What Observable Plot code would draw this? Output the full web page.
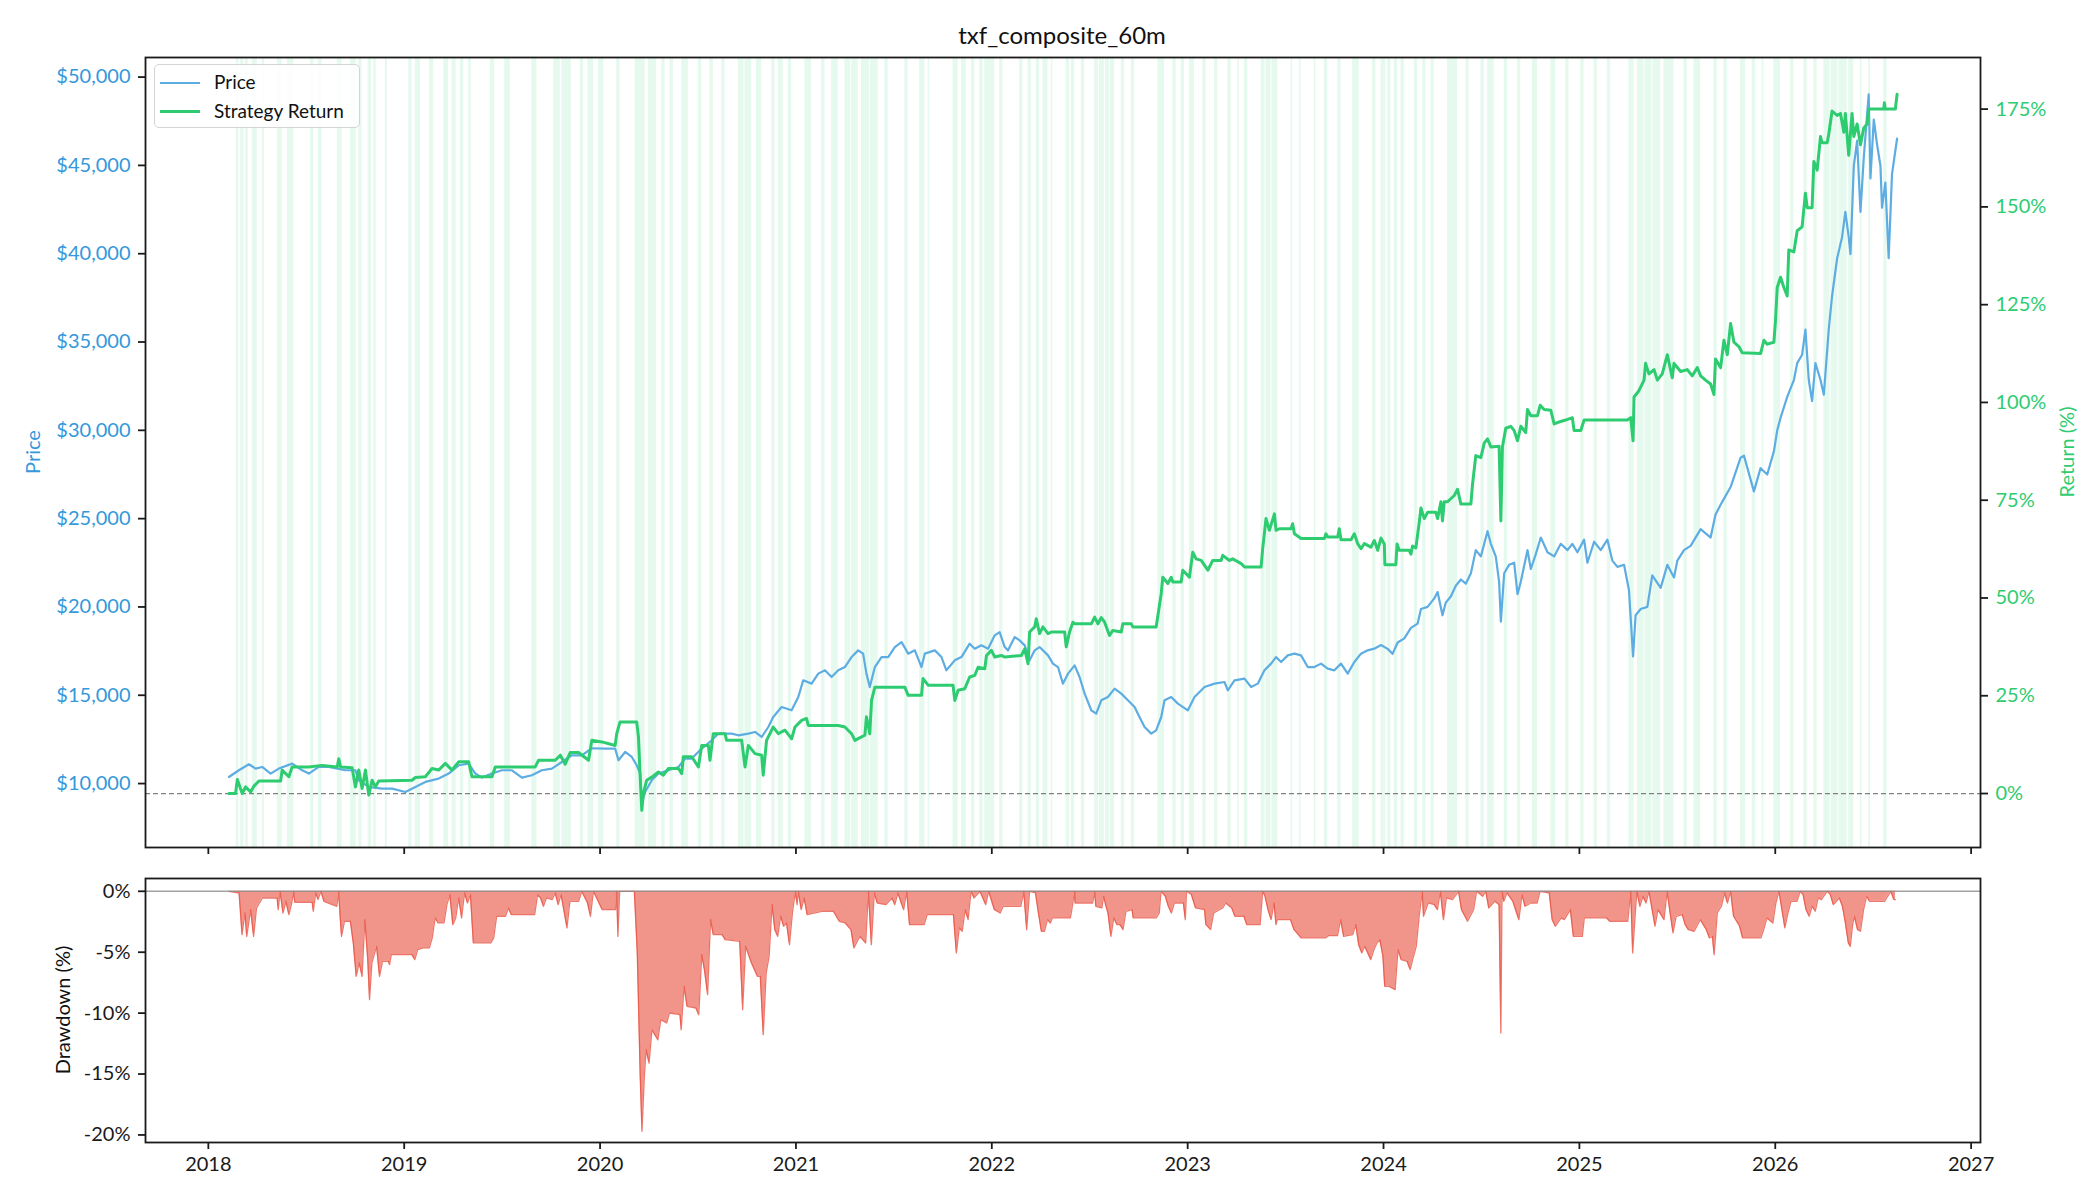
<!DOCTYPE html>
<html><head><meta charset="utf-8">
<script src="https://cdn.jsdelivr.net/npm/d3@7"></script>
<script src="https://cdn.jsdelivr.net/npm/@observablehq/plot@0.6"></script>
<style>
body{margin:0;background:#fff;}
#wrap{position:relative;width:2100px;height:1200px;font-family:Lato,"DejaVu Sans",sans-serif;color:#111;overflow:hidden;}
#wrap svg{position:absolute;left:0;}
.lbl{position:absolute;font-size:20px;white-space:nowrap;}
</style></head>
<body><div id="wrap"></div>
<script>
// ---------------- data (decimal years) ----------------
const priceT = [2018.105,2018.156,2018.207,2018.241,2018.275,2018.318,2018.360,2018.428,2018.479,2018.513,2018.564,2018.615,2018.700,2018.751,2018.768,2018.819,2018.887,2018.938,2019.006,2019.057,2019.108,2019.176,2019.227,2019.278,2019.329,2019.363,2019.397,2019.448,2019.499,2019.550,2019.601,2019.652,2019.703,2019.754,2019.805,2019.856,2019.907,2019.958,2020.026,2020.077,2020.094,2020.128,2020.162,2020.187,2020.205,2020.213,2020.230,2020.264,2020.298,2020.349,2020.400,2020.434,2020.468,2020.519,2020.570,2020.604,2020.672,2020.706,2020.757,2020.791,2020.825,2020.859,2020.884,2020.927,2020.978,2021.012,2021.037,2021.080,2021.114,2021.148,2021.182,2021.216,2021.250,2021.284,2021.318,2021.343,2021.360,2021.377,2021.403,2021.437,2021.471,2021.505,2021.539,2021.573,2021.607,2021.641,2021.658,2021.709,2021.743,2021.768,2021.811,2021.845,2021.887,2021.913,2021.947,2021.981,2022.015,2022.040,2022.066,2022.083,2022.117,2022.142,2022.168,2022.193,2022.219,2022.244,2022.287,2022.312,2022.338,2022.363,2022.389,2022.423,2022.448,2022.474,2022.508,2022.533,2022.559,2022.593,2022.627,2022.661,2022.695,2022.729,2022.754,2022.780,2022.814,2022.839,2022.865,2022.882,2022.916,2022.950,2023.001,2023.035,2023.086,2023.137,2023.188,2023.205,2023.239,2023.290,2023.324,2023.358,2023.392,2023.426,2023.451,2023.477,2023.511,2023.545,2023.579,2023.613,2023.647,2023.681,2023.715,2023.749,2023.783,2023.817,2023.851,2023.885,2023.919,2023.953,2023.987,2024.021,2024.046,2024.072,2024.106,2024.140,2024.174,2024.191,2024.225,2024.259,2024.276,2024.301,2024.318,2024.344,2024.369,2024.395,2024.420,2024.446,2024.471,2024.497,2024.514,2024.531,2024.548,2024.573,2024.590,2024.599,2024.616,2024.641,2024.667,2024.684,2024.701,2024.735,2024.752,2024.777,2024.803,2024.837,2024.871,2024.905,2024.939,2024.964,2024.990,2025.024,2025.041,2025.075,2025.109,2025.143,2025.168,2025.194,2025.228,2025.253,2025.274,2025.287,2025.313,2025.347,2025.372,2025.415,2025.449,2025.483,2025.500,2025.534,2025.568,2025.619,2025.670,2025.695,2025.729,2025.772,2025.823,2025.840,2025.891,2025.925,2025.959,2025.993,2026.010,2026.027,2026.061,2026.095,2026.112,2026.137,2026.154,2026.171,2026.188,2026.205,2026.231,2026.248,2026.273,2026.290,2026.316,2026.341,2026.358,2026.375,2026.384,2026.401,2026.418,2026.435,2026.452,2026.477,2026.486,2026.503,2026.520,2026.537,2026.545,2026.562,2026.579,2026.596,2026.622];
const priceV = [10373,10753,11092,10849,10941,10566,10849,11130,10753,10566,10941,10941,10753,10753,10187,9808,9717,9717,9525,9808,10093,10283,10566,11035,11130,10566,10339,10566,10753,10753,10339,10470,10753,10849,11222,11601,11601,12000,11980,11980,11318,11788,11505,11035,10566,8900,9525,10187,10566,10753,10941,11414,11414,11980,12450,12829,12829,12733,12829,12920,12637,13202,13768,14334,14147,14900,15845,15658,16224,16411,16031,16411,16597,17163,17542,17355,16224,15466,16597,17163,17163,17729,18012,17355,17542,16597,17355,17542,17163,16411,16976,17163,17921,17638,17825,17638,18391,18578,17729,17542,18295,18108,17825,16976,17542,17729,17259,16790,16597,15658,16224,16693,16031,15092,14147,13961,14713,14900,15375,15092,14713,14334,13768,13202,12829,13016,13768,14713,14900,14526,14147,14900,15466,15658,15749,15279,15845,15941,15466,15658,16411,16790,17163,16880,17259,17355,17259,16597,16597,16790,16507,16411,16790,16224,16880,17355,17542,17638,17845,17627,17344,17984,18221,18815,19053,19885,20003,20484,20841,19528,20247,20603,21197,21554,21316,21910,23217,22861,23574,24286,23574,22861,21435,19172,21910,22385,22504,20722,21435,23217,22148,22980,23930,23098,22861,23574,23217,23574,23098,23811,22504,23692,23217,23811,22623,22267,22385,20960,17203,19528,19885,20003,21791,21078,22385,21672,22623,23217,23455,24405,23930,25237,25950,26787,28451,28570,26544,27857,27500,28807,29996,30709,31896,32847,33803,34279,35705,32847,31659,33803,32847,32015,35705,37606,39744,40938,42364,40938,39982,44978,46404,42364,45453,49024,44265,47598,46166,44978,42602,44028,39744,44503,46523];

const returnT = [2018.105,2018.139,2018.148,2018.173,2018.190,2018.216,2018.233,2018.258,2018.369,2018.377,2018.411,2018.428,2018.513,2018.581,2018.658,2018.666,2018.675,2018.734,2018.751,2018.768,2018.785,2018.802,2018.819,2018.836,2018.853,2018.870,2019.040,2019.057,2019.108,2019.142,2019.176,2019.210,2019.244,2019.278,2019.329,2019.346,2019.448,2019.465,2019.669,2019.686,2019.771,2019.797,2019.822,2019.848,2019.890,2019.941,2019.958,2020.009,2020.077,2020.085,2020.102,2020.187,2020.196,2020.204,2020.213,2020.221,2020.238,2020.264,2020.298,2020.323,2020.349,2020.400,2020.417,2020.425,2020.468,2020.502,2020.519,2020.553,2020.561,2020.578,2020.638,2020.646,2020.723,2020.740,2020.757,2020.791,2020.825,2020.833,2020.850,2020.884,2020.910,2020.944,2020.978,2020.995,2021.029,2021.054,2021.063,2021.216,2021.250,2021.284,2021.301,2021.335,2021.352,2021.360,2021.377,2021.386,2021.403,2021.556,2021.573,2021.641,2021.649,2021.675,2021.802,2021.811,2021.828,2021.862,2021.887,2021.913,2021.930,2021.964,2021.973,2021.998,2022.015,2022.049,2022.066,2022.151,2022.168,2022.185,2022.193,2022.219,2022.227,2022.244,2022.261,2022.287,2022.304,2022.372,2022.380,2022.397,2022.414,2022.423,2022.508,2022.525,2022.542,2022.559,2022.576,2022.601,2022.618,2022.661,2022.669,2022.712,2022.720,2022.839,2022.865,2022.873,2022.899,2022.916,2022.924,2022.967,2022.975,2023.009,2023.026,2023.043,2023.069,2023.103,2023.128,2023.171,2023.179,2023.213,2023.230,2023.273,2023.290,2023.375,2023.383,2023.400,2023.417,2023.443,2023.451,2023.468,2023.528,2023.536,2023.545,2023.579,2023.698,2023.706,2023.715,2023.766,2023.774,2023.783,2023.834,2023.851,2023.868,2023.885,2023.902,2023.936,2023.953,2023.970,2023.987,2024.004,2024.007,2024.063,2024.069,2024.080,2024.131,2024.140,2024.148,2024.165,2024.182,2024.191,2024.208,2024.225,2024.267,2024.276,2024.293,2024.301,2024.310,2024.327,2024.361,2024.378,2024.395,2024.446,2024.454,2024.471,2024.497,2024.514,2024.531,2024.548,2024.590,2024.599,2024.607,2024.624,2024.650,2024.667,2024.684,2024.701,2024.726,2024.735,2024.752,2024.786,2024.800,2024.820,2024.854,2024.871,2024.896,2024.930,2024.964,2024.973,2025.007,2025.024,2025.245,2025.262,2025.274,2025.279,2025.304,2025.330,2025.338,2025.355,2025.381,2025.398,2025.423,2025.449,2025.474,2025.483,2025.517,2025.551,2025.576,2025.602,2025.619,2025.644,2025.670,2025.687,2025.695,2025.721,2025.738,2025.755,2025.772,2025.789,2025.814,2025.831,2025.925,2025.942,2025.959,2025.993,2026.001,2026.010,2026.027,2026.044,2026.061,2026.069,2026.095,2026.112,2026.137,2026.154,2026.163,2026.188,2026.197,2026.214,2026.231,2026.239,2026.265,2026.273,2026.290,2026.316,2026.333,2026.350,2026.358,2026.375,2026.392,2026.401,2026.418,2026.435,2026.452,2026.469,2026.477,2026.554,2026.557,2026.562,2026.613,2026.622];
const returnV = [0,0,3.6,0,1.7,0.4,1.9,3.2,3.2,6.0,4.3,6.8,6.8,7.2,6.8,8.9,6.8,6.6,1.7,6.0,1.3,6.0,-0.4,3.4,1.7,3.2,3.4,4.1,4.3,6.4,6.0,7.7,6.0,8.1,8.1,4.3,4.3,6.8,6.8,8.5,8.5,9.8,7.5,10.5,10.5,8.5,13.6,13.2,12.3,15.3,18.3,18.3,14.5,5.1,-4.3,0,3.4,4.2,5.5,4.7,6.4,6.4,5.1,9.4,9.4,6.8,12.3,12.3,8.5,15.3,15.3,13.6,13.6,6.8,12.3,10.2,9.8,4.7,13.6,17.0,15.3,16.2,14.0,17.0,18.7,19.2,17.4,17.4,17.0,15.3,13.6,14.5,14.9,19.6,15.3,23.8,27.2,27.2,25.1,25.1,29.4,27.7,27.7,23.8,26.4,26.8,29.8,30.2,32.3,31.9,35.3,36.6,34.9,35.3,34.9,35.3,37.0,33.2,41.3,42.6,44.7,40.9,42.6,40.9,41.3,41.3,37.5,41.3,43.8,43.4,43.4,45.1,43.4,45.0,43.8,40.4,41.7,41.3,43.4,43.4,42.6,42.6,51.1,55.3,53.7,55.3,54.1,54.1,57.1,55.3,61.7,60.0,59.6,57.1,59.6,59.6,60.9,59.6,60.0,58.8,57.9,57.9,62.6,70.3,67.3,71.5,67.3,67.7,67.7,69.0,66.4,65.2,65.2,66.4,65.6,65.6,67.7,64.9,64.9,66.4,63.9,62.6,63.9,63.0,64.7,62.2,65.3,63.8,58.5,58.5,63.8,62.2,62.2,61.2,63.3,62.8,69.2,73.0,70.3,71.9,71.9,70.3,74.6,69.7,74.6,74.6,76.2,77.8,74.0,74.0,78.9,86.4,85.9,89.6,90.7,88.6,88.8,69.7,88.6,93.4,93.9,92.8,90.2,93.9,92.3,98.2,96.6,96.6,99.3,98.2,98.0,94.5,95.0,95.5,96.1,92.8,92.8,95.5,95.5,96.1,90.2,101.4,103.0,105.7,110.0,107.3,108.4,105.7,107.3,112.2,106.3,110.0,107.9,108.4,106.8,108.9,106.8,105.7,104.7,102.0,111.1,108.9,115.9,112.2,120.2,115.4,114.3,112.7,112.5,115.9,114.9,115.4,120.8,129.4,132.0,129.4,127.2,139.0,138.5,143.9,144.9,153.5,149.8,149.8,161.6,159.4,168.0,166.4,166.4,168.5,174.5,173.4,173.9,169.1,173.9,163.2,173.9,168.0,171.2,165.9,170.2,171.2,175.0,175.0,176.6,175.0,175.0,178.8];

const ddT = [2018.105,2018.157,2018.172,2018.187,2018.196,2018.216,2018.231,2018.246,2018.276,2018.351,2018.357,2018.366,2018.381,2018.396,2018.411,2018.426,2018.435,2018.441,2018.530,2018.536,2018.548,2018.560,2018.575,2018.590,2018.656,2018.665,2018.674,2018.680,2018.695,2018.725,2018.740,2018.755,2018.770,2018.785,2018.799,2018.814,2018.823,2018.835,2018.859,2018.874,2018.889,2018.919,2018.925,2018.934,2019.039,2019.054,2019.069,2019.098,2019.128,2019.143,2019.158,2019.173,2019.203,2019.218,2019.233,2019.248,2019.263,2019.278,2019.293,2019.308,2019.323,2019.338,2019.353,2019.442,2019.457,2019.472,2019.517,2019.532,2019.547,2019.666,2019.681,2019.696,2019.711,2019.726,2019.756,2019.771,2019.786,2019.801,2019.831,2019.846,2019.891,2019.906,2019.936,2019.951,2019.966,2020.011,2020.079,2020.085,2020.091,2020.100,2020.175,2020.190,2020.205,2020.214,2020.226,2020.235,2020.250,2020.265,2020.295,2020.310,2020.340,2020.354,2020.408,2020.414,2020.429,2020.444,2020.489,2020.504,2020.519,2020.534,2020.549,2020.564,2020.578,2020.623,2020.638,2020.713,2020.728,2020.743,2020.773,2020.803,2020.818,2020.833,2020.848,2020.863,2020.878,2020.892,2020.907,2020.922,2020.937,2020.952,2020.967,2020.982,2020.997,2021.006,2021.012,2021.027,2021.042,2021.057,2021.132,2021.191,2021.221,2021.251,2021.281,2021.296,2021.326,2021.356,2021.370,2021.385,2021.400,2021.415,2021.460,2021.490,2021.505,2021.520,2021.550,2021.565,2021.580,2021.655,2021.670,2021.804,2021.819,2021.834,2021.849,2021.864,2021.879,2021.894,2021.909,2021.939,2021.969,2021.984,2022.013,2022.043,2022.058,2022.148,2022.163,2022.178,2022.193,2022.223,2022.238,2022.253,2022.269,2022.284,2022.299,2022.309,2022.401,2022.407,2022.423,2022.425,2022.515,2022.525,2022.531,2022.562,2022.571,2022.583,2022.593,2022.608,2022.623,2022.639,2022.654,2022.670,2022.685,2022.716,2022.722,2022.840,2022.855,2022.864,2022.886,2022.901,2022.917,2022.932,2022.978,2022.988,2022.994,2023.019,2023.040,2023.086,2023.093,2023.117,2023.133,2023.179,2023.194,2023.225,2023.241,2023.287,2023.302,2023.370,2023.383,2023.395,2023.410,2023.426,2023.441,2023.451,2023.457,2023.525,2023.543,2023.580,2023.704,2023.719,2023.765,2023.781,2023.796,2023.843,2023.858,2023.873,2023.889,2023.904,2023.935,2023.951,2023.966,2023.981,2023.997,2024.006,2024.028,2024.059,2024.074,2024.090,2024.120,2024.136,2024.151,2024.167,2024.182,2024.198,2024.204,2024.228,2024.259,2024.275,2024.290,2024.306,2024.321,2024.352,2024.383,2024.398,2024.429,2024.460,2024.475,2024.506,2024.522,2024.537,2024.568,2024.590,2024.599,2024.605,2024.614,2024.630,2024.660,2024.691,2024.707,2024.722,2024.753,2024.784,2024.799,2024.846,2024.861,2024.877,2024.907,2024.923,2024.954,2024.969,2025.015,2025.025,2025.139,2025.154,2025.247,2025.262,2025.272,2025.293,2025.309,2025.324,2025.340,2025.355,2025.386,2025.401,2025.432,2025.448,2025.463,2025.478,2025.494,2025.525,2025.540,2025.556,2025.586,2025.617,2025.648,2025.664,2025.679,2025.688,2025.704,2025.725,2025.741,2025.756,2025.772,2025.787,2025.818,2025.833,2025.926,2025.941,2025.957,2025.988,2026.003,2026.019,2026.034,2026.049,2026.065,2026.080,2026.111,2026.127,2026.142,2026.157,2026.173,2026.188,2026.204,2026.219,2026.235,2026.265,2026.281,2026.296,2026.327,2026.343,2026.358,2026.373,2026.383,2026.395,2026.404,2026.420,2026.435,2026.451,2026.466,2026.481,2026.559,2026.574,2026.590,2026.605,2026.614];
const ddV = [0,-0.14,-3.56,-1.78,-3.70,-1.51,-3.70,-1.37,-0.55,-0.55,-1.51,0,-1.78,-0.82,-1.92,-0.96,0,-0.90,-0.90,-1.64,-0.14,-0.68,0,-0.82,-1.23,0,-2.33,-3.70,-2.46,-2.46,-4.24,-6.98,-5.88,-6.98,-2.33,-5.61,-8.90,-5.88,-4.52,-6.98,-5.75,-5.75,-6.02,-5.20,-5.20,-5.61,-4.79,-4.65,-4.65,-3.83,-2.19,-2.60,-2.60,-1.10,-0.27,-2.74,-2.19,-0.55,-2.19,-0.14,-0.96,-0.27,-4.24,-4.24,-3.83,-2.05,-2.05,-1.37,-1.92,-1.92,-0.27,-0.55,-1.23,-0.55,-0.68,-0.14,-1.10,-0.27,-3.01,-0.82,-0.82,0,-0.96,-2.05,0,-1.51,-1.51,0,-3.70,0,0,-5.06,-15.19,-19.70,-15.19,-13.0,-14.1,-11.37,-12.19,-10.54,-10.81,-9.99,-10.13,-11.37,-7.80,-9.44,-9.58,-10.13,-5.20,-6.57,-8.48,-2.33,-3.56,-3.56,-3.97,-4.11,-9.72,-4.52,-5.88,-6.98,-6.98,-11.77,-6.71,-5.34,-1.10,-3.15,-3.70,-2.05,-2.87,-2.60,-4.38,-1.78,0,-1.10,0,-1.51,-0.55,-1.92,-1.64,-1.64,-2.46,-2.60,-3.15,-4.65,-3.70,-4.24,0,-4.38,-0.14,-0.96,-1.10,-0.55,-1.10,-0.14,-1.51,0,-2.74,-2.74,-1.92,-1.92,-5.06,-3.01,-3.28,-1.51,-2.33,0,-0.55,0,-1.10,0,-1.51,-1.78,-1.23,-1.23,0,-3.15,0,-0.14,-1.78,-3.28,-3.28,-2.33,-2.60,-2.19,-2.19,-1.64,0,-0.96,-0.96,0,-1.23,-1.37,-0.41,-1.23,-1.78,-3.70,-2.19,-2.74,-2.74,-3.15,-1.64,-1.51,-2.19,-2.19,-1.78,0,-0.41,-1.23,-1.78,-0.96,-0.96,-2.33,0,-0.27,-1.37,-1.51,-2.74,-3.15,-1.78,-1.37,-0.96,-1.37,-2.05,-2.05,-2.74,-2.74,0,-0.41,-1.51,-2.33,-0.96,-2.74,-2.33,-2.33,-3.15,-3.83,-3.83,-3.64,-3.64,-2.33,-3.70,-3.56,-2.74,-4.38,-5.06,-4.52,-5.61,-4.79,-4.24,-3.97,-5.34,-7.80,-7.80,-8.07,-4.79,-5.61,-5.75,-6.43,-5.47,-4.52,-2.05,0,-2.05,-0.96,-1.10,-1.51,0,-2.33,-0.55,-0.68,0,-1.51,-2.46,-1.51,0,-0.41,0,-1.37,-0.82,-1.10,-11.63,0,-0.82,-0.14,-0.82,-2.33,-0.27,-1.23,-0.96,-0.96,0,-0.14,-2.33,-2.87,-2.19,-2.33,-1.51,-3.70,-3.70,-2.19,-2.19,-2.46,-2.46,0,-5.06,0,-1.23,-0.41,-0.96,0,-2.87,-1.51,-2.33,0,-1.78,-3.42,-2.05,-1.92,-2.74,-3.15,-3.28,-2.33,-3.15,-3.83,-3.70,-5.20,-1.78,-1.23,-0.14,-0.96,0,-2.05,-2.87,-3.83,-3.83,-3.15,-2.19,-2.60,-0.96,0,-1.51,-3.01,-1.78,-0.82,-0.82,0,-0.27,-1.51,-2.05,-1.23,-1.64,-0.55,-0.68,0,-0.27,-1.10,-0.55,-1.23,-2.60,-4.24,-4.52,-2.74,-2.05,-3.15,-3.28,-1.51,-0.41,-0.82,-0.82,-0.41,0,-0.68,-0.68];

// in-position periods (green spans)
const bandStart = [2018.143,2018.165,2018.190,2018.224,2018.275,2018.352,2018.403,2018.522,2018.561,2018.658,2018.726,2018.768,2018.816,2018.845,2018.904,2019.023,2019.057,2019.129,2019.202,2019.244,2019.287,2019.329,2019.440,2019.513,2019.652,2019.763,2019.805,2019.899,2019.938,2019.992,2020.085,2020.179,2020.247,2020.315,2020.357,2020.417,2020.502,2020.561,2020.621,2020.706,2020.740,2020.799,2020.876,2020.910,2020.961,2021.046,2021.131,2021.182,2021.250,2021.285,2021.335,2021.380,2021.454,2021.556,2021.632,2021.675,2021.802,2021.845,2021.896,2021.938,2021.964,2022.040,2022.142,2022.185,2022.227,2022.261,2022.304,2022.380,2022.406,2022.457,2022.525,2022.550,2022.580,2022.605,2022.661,2022.712,2022.848,2022.924,2022.967,2023.009,2023.077,2023.137,2023.205,2023.256,2023.290,2023.375,2023.400,2023.430,2023.528,2023.570,2023.647,2023.698,2023.766,2023.842,2023.944,2023.987,2024.021,2024.055,2024.089,2024.157,2024.200,2024.242,2024.327,2024.421,2024.497,2024.531,2024.616,2024.684,2024.760,2024.854,2024.930,2025.007,2025.075,2025.143,2025.253,2025.296,2025.335,2025.375,2025.432,2025.534,2025.585,2025.687,2025.738,2025.823,2025.882,2025.933,2025.993,2026.078,2026.146,2026.197,2026.248,2026.285,2026.325,2026.375,2026.435,2026.477,2026.554];
const bandEnd   = [2018.156,2018.182,2018.204,2018.250,2018.287,2018.377,2018.437,2018.539,2018.581,2018.683,2018.755,2018.785,2018.833,2018.857,2018.914,2019.040,2019.083,2019.151,2019.227,2019.265,2019.304,2019.343,2019.462,2019.542,2019.678,2019.797,2019.853,2019.916,2019.967,2020.019,2020.102,2020.230,2020.289,2020.332,2020.374,2020.451,2020.519,2020.578,2020.638,2020.735,2020.774,2020.825,2020.893,2020.935,2020.978,2021.080,2021.148,2021.216,2021.280,2021.318,2021.375,2021.420,2021.471,2021.573,2021.658,2021.683,2021.828,2021.870,2021.913,2021.955,2022.015,2022.057,2022.159,2022.202,2022.244,2022.287,2022.312,2022.397,2022.423,2022.474,2022.545,2022.575,2022.600,2022.627,2022.678,2022.729,2022.882,2022.941,2022.984,2023.035,2023.094,2023.154,2023.222,2023.264,2023.307,2023.395,2023.425,2023.460,2023.536,2023.579,2023.655,2023.715,2023.783,2023.876,2023.961,2024.012,2024.038,2024.072,2024.106,2024.174,2024.217,2024.259,2024.378,2024.437,2024.514,2024.565,2024.633,2024.701,2024.786,2024.879,2024.947,2025.024,2025.092,2025.160,2025.279,2025.330,2025.370,2025.415,2025.483,2025.551,2025.619,2025.704,2025.755,2025.848,2025.899,2025.942,2026.027,2026.095,2026.163,2026.214,2026.280,2026.320,2026.367,2026.401,2026.443,2026.486,2026.571];

const yearTicks   = [2018,2019,2020,2021,2022,2023,2024,2025,2026,2027];
const priceTicks  = [10000,15000,20000,25000,30000,35000,40000,45000,50000];
const returnTicks = [0,25,50,75,100,125,150,175];
const ddTicks     = [0,-5,-10,-15,-20];
const priceDomain  = [6380, 51109];
const returnDomain = [-13.8, 188.2];
const ddDomain     = [-20.62, 1.05];

// ---------------- build ----------------
const FONT = "Lato, 'DejaVu Sans', sans-serif";
const BLUE = "#5dade2", GREEN = "#2ecc71", RED = "#e74c3c", AX = "#1a1a1a";
const pad = 0.05 * (priceT[priceT.length-1] - priceT[0]);
const xDomain = [priceT[0] - pad, priceT[priceT.length-1] + pad];
const k = (priceDomain[1]-priceDomain[0])/(returnDomain[1]-returnDomain[0]);
const toP = r => priceDomain[0] + (r - returnDomain[0]) * k;
const toR = p => returnDomain[0] + (p - priceDomain[0]) / k;

const priceData = priceT.map((t,i)=>({t, v: priceV[i]}));
const retData = returnT.map((t,i)=>({t, v: returnV[i]}));
const ddData = ddT.map((t,i)=>({t, v: ddV[i]}));
const bands = bandStart.map((s,i)=>({s, e: bandEnd[i]}));

const wrap = document.getElementById("wrap");
const st = {fontFamily: FONT, fontSize: "20px", background: "transparent", overflow: "visible"};

const main = Plot.plot({
  width: 2100, height: 860, marginLeft: 145, marginRight: 120, marginTop: 57, marginBottom: 13,
  style: st,
  x: {domain: xDomain},
  y: {domain: priceDomain},
  marks: [
    Plot.rect(bands, {x1: "s", x2: "e", y1: () => priceDomain[0], y2: () => priceDomain[1], fill: GREEN, fillOpacity: 0.12, inset: 0}),
    Plot.ruleY([toP(0)], {stroke: "#808080", strokeWidth: 1.2, strokeDasharray: "5,3"}),
    Plot.line(priceData, {x: "t", y: "v", stroke: BLUE, strokeWidth: 2.2}),
    Plot.line(retData, {x: "t", y: d => toP(d.v), stroke: GREEN, strokeWidth: 3, strokeLinejoin: "round"}),
    Plot.axisY({anchor: "left", ticks: priceTicks, tickFormat: d3.format("$,.0f"), tickSize: 7, tickPadding: 8, stroke: AX, strokeWidth: 1.8, fill: "#3498db", label: null}),
    Plot.axisY({anchor: "right", ticks: returnTicks.map(toP), tickFormat: d => Math.round(toR(d)) + "%", tickSize: 7, tickPadding: 8, stroke: AX, strokeWidth: 1.8, fill: GREEN, label: null}),
    Plot.axisX({anchor: "bottom", ticks: yearTicks, tickFormat: () => "", tickSize: 7, stroke: AX, strokeWidth: 1.8, label: null}),
    Plot.frame({stroke: AX, strokeWidth: 1.8})
  ]
});
main.style.top = "0px";
wrap.appendChild(main);

const dd = Plot.plot({
  width: 2100, height: 340, marginLeft: 145, marginRight: 120, marginTop: 18, marginBottom: 58,
  style: st,
  x: {domain: xDomain},
  y: {domain: ddDomain},
  marks: [
    Plot.areaY(ddData, {x: "t", y: "v", fill: RED, fillOpacity: 0.6}),
    Plot.lineY(ddData, {x: "t", y: "v", stroke: RED, strokeWidth: 1.3, strokeOpacity: 0.75}),
    Plot.ruleY([0], {stroke: "#8a8a8a", strokeWidth: 1.5, strokeOpacity: 0.8}),
    Plot.axisY({anchor: "left", ticks: ddTicks, tickFormat: d => d + "%", tickSize: 7, tickPadding: 8, stroke: AX, strokeWidth: 1.8, fill: AX, label: null}),
    Plot.axisX({anchor: "bottom", ticks: yearTicks, tickFormat: d3.format("d"), tickSize: 7, tickPadding: 7, stroke: AX, strokeWidth: 1.8, fill: AX, label: null}),
    Plot.frame({stroke: AX, strokeWidth: 1.8})
  ]
});
dd.style.top = "860px";
wrap.appendChild(dd);

// title, axis labels, legend
function label(text, x, y, rot, color, size) {
  const d = document.createElement("div");
  d.className = "lbl";
  d.textContent = text;
  d.style.left = x + "px"; d.style.top = y + "px";
  d.style.color = color; d.style.fontSize = size + "px";
  d.style.transform = `translate(-50%,-50%) rotate(${rot}deg)`;
  wrap.appendChild(d);
}
label("txf_composite_60m", 1062, 34, 0, "#111", 24);
label("Price", 32, 452, -90, "#3498db", 20);
label("Return (%)", 2066, 452, -90, GREEN, 20);
label("Drawdown (%)", 62, 1010, -90, "#111", 20);

const lg = document.createElement("div");
lg.style.cssText = "position:absolute;left:154px;top:64px;width:206px;height:64px;border:1.5px solid #d4d4d4;border-radius:5px;background:rgba(255,255,255,0.85);box-sizing:border-box;font-size:19px;";
lg.innerHTML =
  `<div style="position:absolute;left:5px;top:17px;width:40px;height:2px;background:${BLUE}"></div>
   <div style="position:absolute;left:59px;top:5px;line-height:24px">Price</div>
   <div style="position:absolute;left:5px;top:45px;width:40px;height:3px;background:${GREEN}"></div>
   <div style="position:absolute;left:59px;top:34px;line-height:24px">Strategy Return</div>`;
wrap.appendChild(lg);
</script>
</body></html>
